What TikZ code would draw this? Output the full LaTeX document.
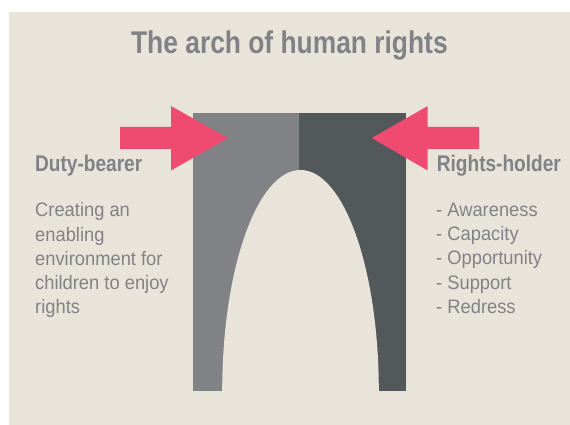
\documentclass[tikz,border=0pt]{standalone}
\usepackage{fontspec}
\setmainfont{Liberation Sans}
\newfontfamily\headfont{Liberation Sans}[FakeStretch=0.84]
\newfontfamily\bodyfont{Liberation Sans}[FakeStretch=0.94]
\usepackage{tikz}

\definecolor{paper}{HTML}{E9E4DA}
\definecolor{inkgrey}{HTML}{808285}
\definecolor{archlight}{HTML}{808285}
\definecolor{archdark}{HTML}{53585B}
\definecolor{pushpink}{HTML}{EF4A6F}

\begin{document}
\begin{tikzpicture}[x=1pt,y=1pt]
\useasboundingbox (0,0) rectangle (570,425);
\fill[paper] (9,0) rectangle (570,413);

% the arch
\fill[archlight] (193.3,34) rectangle (299.3,312.3);
\fill[archdark] (299.3,34) rectangle (406.3,312.3);
\fill[paper] (222.2,34) arc[start angle=180,end angle=0,x radius=78.3,y radius=221] -- cycle;

% pushing arrows
\fill[pushpink] (120,298) -- (171,298) -- (171,319) -- (227.7,287) -- (171,254.5)
    -- (171,276) -- (120,276) -- cycle;
\fill[pushpink] (479,298) -- (427.7,298) -- (427.7,319) -- (371.7,287) -- (427.7,254.5)
    -- (427.7,276) -- (479,276) -- cycle;

\begin{scope}[every node/.style={inner sep=0pt,text=inkgrey}]
    \node[anchor=base] (title) at (289.4,371) {\headfont\bfseries\fontsize{31.4}{36}\selectfont The arch of human rights};
    \node[anchor=base west] (duty) at (35,253.3) {\headfont\bfseries\fontsize{22.7}{26}\selectfont Duty-bearer};
    \node[anchor=base west] (rights) at (436.7,253.3) {\headfont\bfseries\fontsize{22.7}{26}\selectfont Rights-holder};
\end{scope}

% last lines sit on the anchor
\begin{scope}[every node/.style={inner sep=0pt,text=inkgrey,align=left,
              font=\bodyfont\fontsize{19.5}{24.3}\selectfont}]
    \node[anchor=base west] (dutytext) at (35,111)
        {Creating an\\enabling\\environment for\\children to enjoy\\rights};
    \node[anchor=base west] (rightstext) at (436,111.5)
        {- Awareness\\- Capacity\\- Opportunity\\- Support\\- Redress};
\end{scope}
\end{tikzpicture}
\end{document}
